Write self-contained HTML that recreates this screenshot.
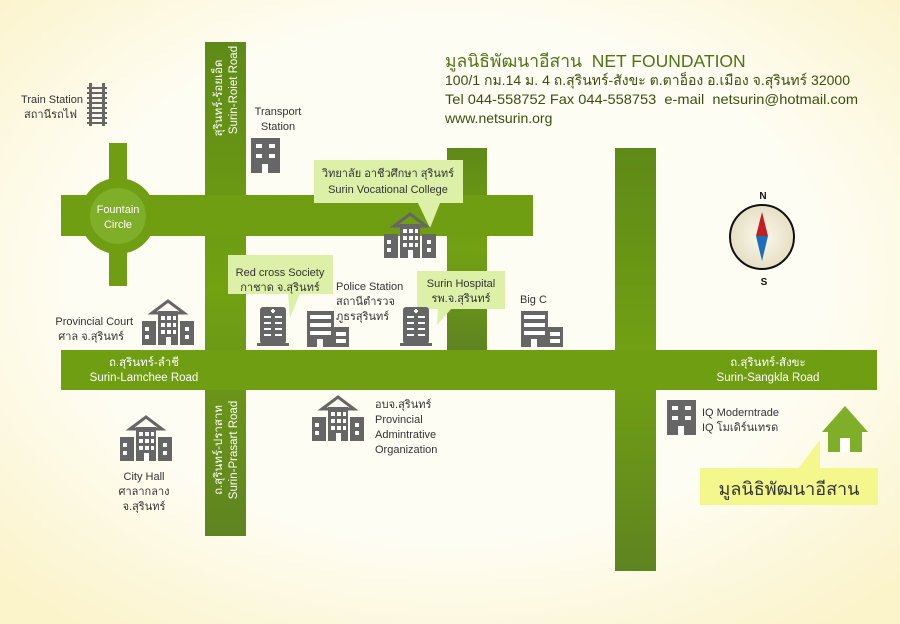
<!DOCTYPE html>
<html><head><meta charset="utf-8"><style>
html,body{margin:0;padding:0;width:900px;height:624px;overflow:hidden}
svg{display:block}
text{font-family:"Liberation Sans","Noto Sans CJK SC",sans-serif;white-space:pre}
</style></head><body>
<svg width="900" height="624" viewBox="0 0 900 624" xmlns="http://www.w3.org/2000/svg">
<defs>
<radialGradient id="bg" cx="50%" cy="45%" r="70%">
<stop offset="0.6" stop-color="#fefdf3"/><stop offset="1" stop-color="#fbf3c9"/>
</radialGradient>
<linearGradient id="vg" x1="0" y1="0" x2="0" y2="1">
<stop offset="0" stop-color="#5e8a17"/><stop offset="0.5" stop-color="#72a112"/><stop offset="1" stop-color="#5e8420"/>
</linearGradient>
<radialGradient id="cg" cx="50%" cy="50%" r="50%">
<stop offset="0" stop-color="#fbf8ea"/><stop offset="1" stop-color="#e6dfc4"/>
</radialGradient>
<g id="bld">
<polygon points="0,-2 16,-14 32,-2" fill="none" stroke="#666" stroke-width="3"/>
<rect x="6" y="-4" width="20" height="34" fill="#666"/>
<rect x="-10" y="6" width="14" height="24" fill="#666"/>
<rect x="28" y="6" width="14" height="24" fill="#666"/>
<g fill="#fff"><rect x="9" y="1" width="4" height="4"/><rect x="15" y="1" width="4" height="4"/><rect x="21" y="1" width="3" height="4"/>
<rect x="9" y="8" width="4" height="4"/><rect x="15" y="8" width="4" height="4"/><rect x="21" y="8" width="3" height="4"/>
<rect x="9" y="15" width="4" height="4"/><rect x="15" y="15" width="4" height="4"/><rect x="21" y="15" width="3" height="4"/>
<rect x="14" y="22" width="5" height="8"/><rect x="-7" y="12" width="4" height="4"/><rect x="-7" y="20" width="4" height="4"/>
<rect x="33" y="12" width="4" height="4"/><rect x="33" y="20" width="4" height="4"/></g>
</g>
<g id="hosp">
<rect x="0" y="0" width="26" height="37" rx="3" fill="#666"/>
<rect x="-3" y="36" width="32" height="3" fill="#666"/>
<g fill="#fff"><rect x="11" y="3" width="4" height="2"/><rect x="12" y="2" width="2" height="4"/>
<rect x="4" y="9" width="7" height="2"/><rect x="15" y="9" width="7" height="2"/>
<rect x="4" y="15" width="7" height="2"/><rect x="15" y="15" width="7" height="2"/>
<rect x="4" y="21" width="7" height="2"/><rect x="15" y="21" width="7" height="2"/>
<rect x="4" y="27" width="7" height="2"/><rect x="15" y="27" width="7" height="2"/></g>
</g>
<g id="mall">
<rect x="0" y="0" width="27" height="36" fill="#666"/>
<rect x="26" y="16" width="16" height="20" fill="#666"/>
<g fill="#fff"><rect x="3" y="4" width="21" height="4"/><rect x="3" y="12" width="21" height="4"/><rect x="3" y="20" width="21" height="4"/>
<rect x="29" y="21" width="10" height="4"/><rect x="29" y="28" width="10" height="4"/><rect x="10" y="28" width="6" height="8"/></g>
</g>
</defs>
<rect width="900" height="624" fill="url(#bg)"/>

<!-- roads -->
<g fill="#6f9e12">
<rect x="61" y="195" width="472" height="41"/>
<rect x="61" y="350" width="816" height="40"/>
<rect x="109" y="143" width="18" height="143"/>
<circle cx="118" cy="216" r="38"/>
</g>
<rect x="205" y="42" width="41" height="494" fill="url(#vg)"/>
<rect x="447" y="148" width="40" height="202" fill="url(#vg)"/>
<rect x="615" y="148" width="41" height="423" fill="url(#vg)"/>
<rect x="447" y="195" width="40" height="41" fill="#6f9e12"/>
<rect x="205" y="195" width="41" height="41" fill="#6f9e12"/>
<rect x="205" y="350" width="41" height="40" fill="#6f9e12"/>
<rect x="447" y="350" width="40" height="40" fill="#6f9e12"/>
<rect x="615" y="350" width="41" height="40" fill="#6f9e12"/>
<circle cx="118" cy="216" r="28" fill="#7fae28"/>
<text x="118" y="213" font-size="11" fill="#fff" text-anchor="middle">Fountain</text>
<text x="118" y="228" font-size="11" fill="#fff" text-anchor="middle">Circle</text>

<!-- road labels -->
<g font-size="11.5" fill="#fff" text-anchor="middle">
<text transform="translate(222,98) rotate(-90)">สุรินทร์-ร้อยเอ็ด</text>
<text transform="translate(237,90) rotate(-90)">Surin-Roiet Road</text>
<text transform="translate(222,450) rotate(-90)">ถ.สุรินทร์-ปราสาท</text>
<text transform="translate(237,450) rotate(-90)">Surin-Prasart Road</text>
<text x="144" y="366">ถ.สุรินทร์-ลำชี</text>
<text x="144" y="381">Surin-Lamchee Road</text>
<text x="768" y="366">ถ.สุรินทร์-สังขะ</text>
<text x="768" y="381">Surin-Sangkla Road</text>
</g>

<!-- header -->
<text x="445" y="67" font-size="17.5" fill="#4f7415">มูลนิธิพัฒนาอีสาน  NET FOUNDATION</text>
<g font-size="14" fill="#3a4f0e">
<text x="445" y="85" textLength="405" lengthAdjust="spacingAndGlyphs">100/1 กม.14 ม. 4 ถ.สุรินทร์-สังขะ ต.ตาอ็อง อ.เมือง จ.สุรินทร์ 32000</text>
<text x="445" y="104" textLength="413" lengthAdjust="spacingAndGlyphs">Tel 044-558752 Fax 044-558753  e-mail  netsurin@hotmail.com</text>
<text x="445" y="123">www.netsurin.org</text>
</g>

<!-- callouts -->
<g fill="#dcf0a8">
<rect x="314" y="160" width="149" height="43"/><polygon points="418,203 440,203 430,228"/>
<rect x="228" y="255" width="105" height="39"/><polygon points="288,293 300,293 290,318"/>
<rect x="417" y="271" width="88" height="38"/><polygon points="438,308 452,308 437,325"/>
</g>
<rect x="700" y="468" width="178" height="37" fill="#f4f78c"/>
<polygon points="797,470 820,470 820,440" fill="#f4f78c"/>

<g font-size="11" fill="#333">
<text x="388" y="177" text-anchor="middle">วิทยาลัย อาชีวศึกษา สุรินทร์</text>
<text x="388" y="193" text-anchor="middle">Surin Vocational College</text>
<text x="280" y="276" text-anchor="middle">Red cross Society</text>
<text x="280" y="291" text-anchor="middle">กาชาด จ.สุรินทร์</text>
<text x="461" y="287" text-anchor="middle">Surin Hospital</text>
<text x="461" y="302" text-anchor="middle">รพ.จ.สุรินทร์</text>
<text x="336" y="290">Police Station</text>
<text x="336" y="305">สถานีตำรวจ</text>
<text x="336" y="320">ภูธรสุรินทร์</text>
<text x="520" y="303">Big C</text>
<text x="83" y="103" text-anchor="end">Train Station</text>
<text x="77" y="118" text-anchor="end">สถานีรถไฟ</text>
<text x="278" y="115" text-anchor="middle">Transport</text>
<text x="278" y="130" text-anchor="middle">Station</text>
<text x="133" y="325" text-anchor="end">Provincial Court</text>
<text x="124" y="340" text-anchor="end">ศาล จ.สุรินทร์</text>
<text x="144" y="480" text-anchor="middle">City Hall</text>
<text x="144" y="495" text-anchor="middle">ศาลากลาง</text>
<text x="144" y="510" text-anchor="middle">จ.สุรินทร์</text>
<text x="375" y="408">อบจ.สุรินทร์</text>
<text x="375" y="423">Provincial</text>
<text x="375" y="438">Admintrative</text>
<text x="375" y="453">Organization</text>
<text x="702" y="416">IQ Moderntrade</text>
<text x="702" y="431">IQ โมเดิร์นเทรด</text>
</g>
<text x="789" y="495" font-size="18" fill="#333" text-anchor="middle">มูลนิธิพัฒนาอีสาน</text>

<!-- train track -->
<g fill="#666"><rect x="89" y="83" width="3" height="43"/><rect x="102" y="83" width="3" height="43"/>
<rect x="87" y="87" width="20" height="2"/><rect x="87" y="92" width="20" height="2"/><rect x="87" y="97" width="20" height="2"/><rect x="87" y="102" width="20" height="2"/><rect x="87" y="107" width="20" height="2"/><rect x="87" y="112" width="20" height="2"/><rect x="87" y="117" width="20" height="2"/><rect x="87" y="122" width="20" height="2"/></g>
<!-- transport station -->
<rect x="251" y="138" width="29" height="35" fill="#666"/>
<g fill="#fff"><rect x="256" y="144" width="6" height="4"/><rect x="269" y="144" width="6" height="4"/><rect x="256" y="154" width="6" height="4"/><rect x="269" y="154" width="6" height="4"/><rect x="262" y="164" width="6" height="9"/></g>
<!-- IQ -->
<rect x="667" y="400" width="29" height="35" fill="#666"/>
<g fill="#fff"><rect x="672" y="406" width="6" height="4"/><rect x="685" y="406" width="6" height="4"/><rect x="672" y="416" width="6" height="4"/><rect x="685" y="416" width="6" height="4"/><rect x="678" y="426" width="6" height="9"/></g>

<use href="#bld" x="394" y="228"/>
<use href="#bld" x="152" y="315"/>
<use href="#bld" x="130" y="431"/>
<use href="#bld" x="322" y="411"/>
<use href="#hosp" x="260" y="307"/>
<use href="#hosp" x="403" y="307"/>
<use href="#mall" x="307" y="311"/>
<use href="#mall" x="521" y="311"/>

<!-- home -->
<polygon points="845,406 822,432 868,432" fill="#7fae28"/>
<rect x="828" y="430" width="34" height="22" fill="#7fae28"/>
<rect x="840" y="438" width="10" height="14" fill="#fff"/>

<!-- compass -->
<circle cx="762" cy="237" r="32" fill="url(#cg)" stroke="#111" stroke-width="2"/>
<polygon points="762,212 756,236 768,236" fill="#c41e22"/>
<polygon points="756,236 768,236 762,261" fill="#1a6fbd"/>
<text x="763" y="199" font-size="10" font-weight="bold" fill="#111" text-anchor="middle">N</text>
<text x="764" y="285" font-size="10" font-weight="bold" fill="#111" text-anchor="middle">S</text>
</svg>
</body></html>
